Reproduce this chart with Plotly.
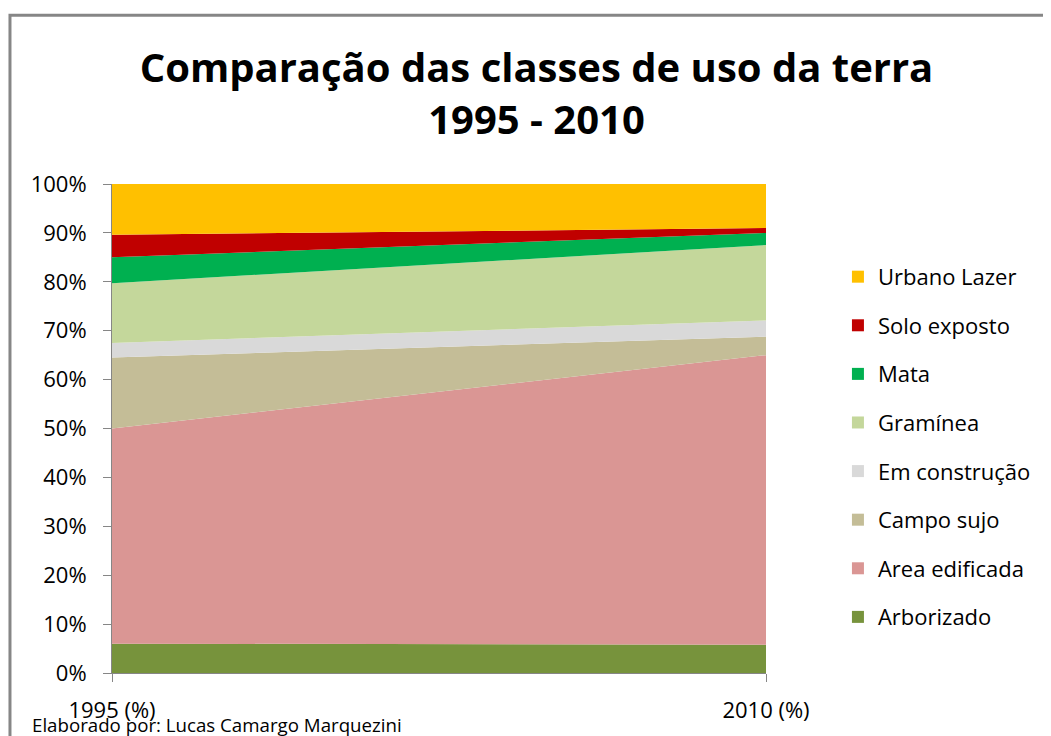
import plotly.graph_objects as go

years = ["1995 (%)", "2010 (%)"]
classes = ["Arborizado", "Area edificada", "Campo sujo", "Em construção",
           "Gramínea", "Mata", "Solo exposto", "Urbano Lazer"]
v1995 = [6.0, 44.0, 14.5, 3.0, 12.2, 5.3, 4.6, 10.4]
v2010 = [5.8, 59.2, 3.8, 3.3, 15.4, 2.5, 1.0, 9.0]
colors = ["#77933C", "#DA9694", "#C4BD97", "#D9D9D9",
          "#C4D79B", "#00B050", "#C00000", "#FFC000"]

fig = go.Figure()
# stacked areas (bottom to top)
for name, a, b, c in zip(classes, v1995, v2010, colors):
    fig.add_trace(go.Scatter(
        x=[0, 1], y=[a, b], name=name, mode="lines",
        stackgroup="one", line=dict(width=0, color=c), fillcolor=c,
        showlegend=False, hoverinfo="name+y"))

# legend entries with square swatches (top to bottom)
for name, c in zip(classes[::-1], colors[::-1]):
    fig.add_trace(go.Scatter(
        x=[None], y=[None], name=name, mode="markers",
        marker=dict(symbol="square", size=12, color=c),
        legendgroup=name, showlegend=True, hoverinfo="skip"))

font_family = "Open Sans, Noto Sans, Liberation Sans, sans-serif"

fig.update_layout(
    width=1043, height=728,
    margin=dict(l=104, r=285, t=176, b=63),
    paper_bgcolor="white", plot_bgcolor="white",
    font=dict(family=font_family, size=22, color="#000000"),
    title=dict(text="<b>Comparação das classes de uso da terra<br>1995 - 2010</b>",
               x=0.5067, xanchor="center", y=0.899, yanchor="top",
               font=dict(size=40, family=font_family, color="#000000")),
    showlegend=True,
    legend=dict(traceorder="grouped", x=1.110, xanchor="left",
                y=0.853, yanchor="top", tracegroupgap=17,
                font=dict(size=22, family=font_family), itemwidth=30,
                bgcolor="rgba(0,0,0,0)"),
    xaxis=dict(range=[0, 1], tickmode="array", tickvals=[0, 1], ticktext=years,
               showgrid=False, zeroline=False, showline=True, linecolor="#868686",
               linewidth=1, ticks="outside", ticklen=8, tickcolor="#868686",
               ticklabelstandoff=10, tickfont=dict(size=22)),
    yaxis=dict(range=[0, 100], tickmode="linear", tick0=0, dtick=10, ticksuffix="%",
               showgrid=False, zeroline=False, showline=True, linecolor="#868686",
               linewidth=1, ticks="outside", ticklen=8, tickcolor="#868686",
               ticklabelstandoff=12, tickfont=dict(size=22)),
)

fig.add_annotation(text="Elaborado por: Lucas Camargo Marquezini",
                   xref="paper", yref="paper", x=-0.1254, y=-0.106,
                   xanchor="left", yanchor="middle", showarrow=False,
                   font=dict(size=18.7, family=font_family, color="#000000"))

fig.add_shape(type="rect", xref="paper", yref="paper",
              x0=-0.156, x1=1.6, y0=-0.3, y1=1.345,
              line=dict(color="#868686", width=3), fillcolor="rgba(0,0,0,0)",
              layer="below")

fig.write_html("out.html")
